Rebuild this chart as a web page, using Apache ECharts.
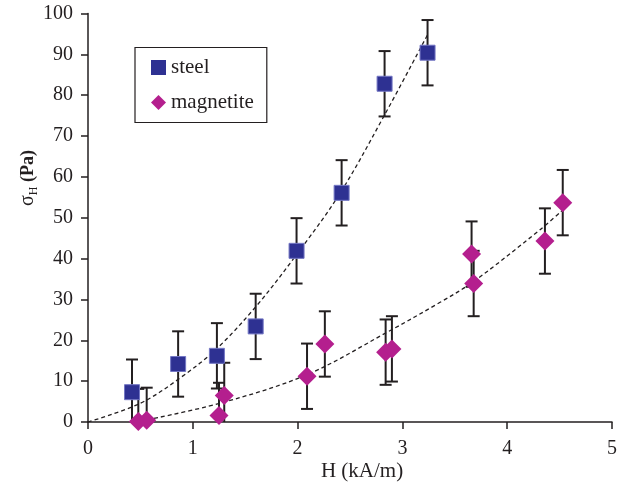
<!DOCTYPE html>
<html>
<head>
<meta charset="utf-8">
<script src="https://cdn.jsdelivr.net/npm/echarts@6/dist/echarts.min.js"></script>
<style>
  html, body { margin: 0; padding: 0; background: #fff; }
  #main { width: 632px; height: 484px; }
</style>
</head>
<body>
<div id="main"></div>
<script>
// steel particles
var steelH = [0.42, 0.86, 1.23, 1.60, 1.99, 2.42, 2.83, 3.24];
var steelSigma = [7.3, 14.2, 16.2, 23.4, 41.9, 56.1, 82.8, 90.4];
var steelErr = [8, 8, 8, 8, 8, 8, 8, 8];

// magnetite particles
var magH = [0.48, 0.56, 1.25, 1.30, 2.09, 2.26, 2.84, 2.90, 3.66, 3.68, 4.36, 4.53];
var magSigma = [0.1, 0.4, 1.6, 6.5, 11.2, 19.1, 17.1, 17.9, 41.1, 33.9, 44.3, 53.7];
var magErr = [8, 8, 8, 8, 8, 8, 8, 8, 8, 8, 8, 8];

// dashed trend lines
var steelFitH = [0, 0.5, 0.88, 1.23, 1.61, 1.97, 2.40, 2.82, 3.24];
var steelFit = [0, 4.6, 10.8, 18.0, 28.5, 40.3, 55.8, 74.7, 94.8];
var magFitH = [0.5, 1.26, 2.09, 2.87, 3.36, 3.68, 4.31, 4.53];
var magFit = [0.2, 4.6, 11.6, 22.2, 29.3, 34.4, 47.0, 51.9];

var xTicks = [0, 1, 2, 3, 4, 5];
var yTicks = [0, 10, 20, 30, 40, 50, 60, 70, 80, 90, 100];

var serif = 'Liberation Serif';
var ink = '#231f20';

function pairs(xs, ys) {
    return xs.map(function (x, i) { return [x, ys[i]]; });
}

function errBars(xs, ys, es) {
    return {
        type: 'custom',
        z: 2,
        silent: true,
        data: xs.map(function (x, i) { return [x, ys[i] - es[i], ys[i] + es[i]]; }),
        renderItem: function (params, api) {
            var x = api.value(0), lo = api.value(1), hi = api.value(2);
            var clipped = lo < 0;
            var p1 = api.coord([x, Math.max(lo, 0)]);
            var p2 = api.coord([x, hi]);
            var w = 6;
            var st = { stroke: ink, lineWidth: 2 };
            var kids = [
                { type: 'line', shape: { x1: p1[0], y1: p1[1], x2: p2[0], y2: p2[1] }, style: st },
                { type: 'line', shape: { x1: p2[0] - w, y1: p2[1], x2: p2[0] + w, y2: p2[1] }, style: st }
            ];
            if (!clipped) {
                kids.push({ type: 'line', shape: { x1: p1[0] - w, y1: p1[1], x2: p1[0] + w, y2: p1[1] }, style: st });
            }
            return { type: 'group', children: kids };
        }
    };
}

var option = {
    backgroundColor: '#fff',
    animation: false,
    grid: { left: 88, right: 20, top: 13.5, bottom: 62, containLabel: false },
    xAxis: {
        type: 'value', min: 0, max: 5, interval: 1,
        splitLine: { show: false },
        axisLine: { lineStyle: { color: ink, width: 1.5 } },
        axisTick: { show: true, inside: false, length: 7, lineStyle: { color: ink, width: 1.5 } },
        axisLabel: { fontFamily: serif, fontSize: 20, color: ink, margin: 17,
            formatter: function (v) { return xTicks.indexOf(v) >= 0 ? String(v) : ''; } }
    },
    yAxis: {
        type: 'value', min: 0, max: 100, interval: 10,
        splitLine: { show: false },
        axisLine: { show: true, lineStyle: { color: ink, width: 1.5 } },
        axisTick: { show: true, inside: false, length: 7, lineStyle: { color: ink, width: 1.5 } },
        axisLabel: { fontFamily: serif, fontSize: 20, color: ink, margin: 15,
            formatter: function (v) { return yTicks.indexOf(v) >= 0 ? String(v) : ''; } }
    },
    legend: {
        left: 135, top: 47.5,
        orient: 'vertical',
        data: [
            { name: 'steel', icon: 'rect', itemStyle: { color: '#2e3192', opacity: 1, borderWidth: 0 } },
            { name: 'magnetite', icon: 'path://M7.5,0L15,7.5L7.5,15L0,7.5Z', itemStyle: { color: '#b41f8e', opacity: 1, borderWidth: 0 } }
        ],
        itemWidth: 15, itemHeight: 15, itemGap: 13,
        padding: [9, 13, 9, 16],
        borderColor: ink, borderWidth: 1.2,
        textStyle: { fontFamily: serif, fontSize: 21, color: ink, lineHeight: 22 }
    },
    graphic: [
        {
            type: 'text', x: 28, y: 178, rotation: Math.PI / 2,
            style: {
                text: '{s|σ}{sub|H}{b| (Pa)}',
                align: 'center', verticalAlign: 'middle',
                rich: {
                    s: { fontFamily: serif, fontSize: 20, fill: ink, lineHeight: 24 },
                    sub: { fontFamily: serif, fontSize: 12, fill: ink, verticalAlign: 'bottom', lineHeight: 24, padding: [9, 0, 0, 0] },
                    b: { fontFamily: serif, fontSize: 18, fontWeight: 'bold', fill: ink, lineHeight: 24 }
                }
            }
        },
        {
            type: 'text', x: 362, y: 471,
            style: { text: 'H (kA/m)', fontFamily: serif, fontSize: 21, fill: ink, align: 'center', verticalAlign: 'middle' }
        }
    ],
    series: [
        {
            name: 'steel fit', type: 'line', data: pairs(steelFitH, steelFit),
            smooth: 0.35, showSymbol: false, silent: true, z: 1,
            lineStyle: { color: ink, width: 1.3, type: [4, 3] }
        },
        {
            name: 'magnetite fit', type: 'line', data: pairs(magFitH, magFit),
            smooth: 0.35, showSymbol: false, silent: true, z: 1,
            lineStyle: { color: ink, width: 1.3, type: [4, 3] }
        },
        errBars(steelH, steelSigma, steelErr),
        errBars(magH, magSigma, magErr),
        {
            name: 'steel', type: 'scatter', z: 3,
            data: pairs(steelH, steelSigma),
            symbol: 'rect', symbolSize: 15,
            itemStyle: { color: '#2e3192', opacity: 1, borderColor: '#7376c4', borderWidth: 1 }
        },
        {
            name: 'magnetite', type: 'scatter', z: 3,
            data: pairs(magH, magSigma),
            symbol: 'diamond', symbolSize: 19,
            itemStyle: { color: '#b41f8e', opacity: 1, borderWidth: 0 }
        }
    ]
};

var myChart = echarts.init(document.getElementById('main'));
myChart.setOption(option, true);
</script>
</body>
</html>
